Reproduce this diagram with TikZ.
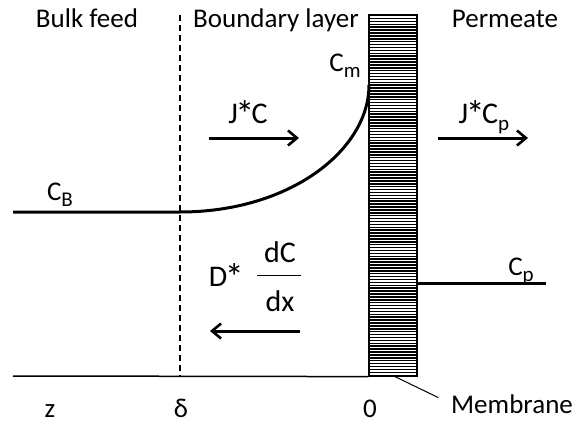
\documentclass[tikz,border=0pt]{standalone}
\usepackage{fontspec}
\setmainfont{Carlito}
\usetikzlibrary{positioning,arrows.meta}

\newcommand\sbs[1]{\raisebox{-0.24em}{\fontsize{21}{21}\selectfont #1}}
\newcommand\bigast{\kern-2.5pt\raisebox{-0.16em}{\fontsize{38}{38}\selectfont *}\kern-2.5pt}

\begin{document}
\begin{tikzpicture}[x=1pt, y=-1pt,
        lbl/.style={font=\fontsize{27}{29}\selectfont, inner sep=0pt, anchor=base},
        big/.style={lbl, font=\fontsize{30}{32}\selectfont},
        flux/.style={-{Straight Barb[length=9pt, width=15pt, line width=2.6pt]}, line width=3pt},
        profile/.style={line width=3pt},
        wall/.style={draw, line width=1.2pt, minimum width=48pt, minimum height=361pt, inner sep=0pt}
    ]
        \useasboundingbox (0,0) rectangle (574,426);

        % membrane with its stripes
        \node[wall] (membrane) at (393,195.5) {};
        \foreach \y in {18.5,21.4,...,374} {
            \draw[line width=1.5pt] (369,\y) -- (417,\y);
        }
        \node[wall] at (393,195.5) {};

        % axis and the edge of the boundary layer
        \coordinate (z) at (13,376);
        \coordinate (delta) at (180,212);
        \coordinate (deltatop) at (180,15);
        \coordinate (deltabot) at (180,376);
        \draw[line width=1.5pt] (z) -- (membrane.south west);
        \draw[line width=1.2pt, dash pattern=on 6pt off 4pt] (deltatop) -- (deltabot);

        % concentration profile
        \coordinate (bulk) at (13,212);
        \coordinate (wallin) at (369,85);
        \coordinate (perm) at (546,283);
        \draw[profile] (bulk) -- (delta) .. controls (290,212) and (369,150) .. (wallin);
        \draw[profile] (membrane.east |- perm) -- (perm);

        % headings
        \node[lbl] (bulkfeed) at (87,27) {Bulk feed};
        \node[lbl] (boundary) at (276,27) {Boundary layer};
        \node[lbl] (permeate) at (505,27) {Permeate};

        % concentrations
        \node[lbl] (cm) at (345,71) {C\sbs{m}};
        \node[lbl] (cb) at (60,200) {C\sbs{B}};
        \node[lbl] (cp) at (521,275) {C\sbs{p}};

        % fluxes
        \coordinate (jc1) at (209,138);
        \coordinate (jc2) at (299,138);
        \coordinate (jp1) at (438,138);
        \coordinate (jp2) at (528,138);
        \coordinate (d1) at (300,331);
        \coordinate (d2) at (210,331);
        \draw[flux] (jc1) -- (jc2);
        \draw[flux] (jp1) -- (jp2);
        \draw[flux] (d1) -- (d2);
        \node[big] (jc) at (248,123) {J\bigast C};
        \node[big] (jcp) at (484,123) {J\bigast C\sbs{p}};
        \node[big] (dstar) at (225,286) {D\bigast};
        \node[big] (dc) at (280,262) {dC};
        \node[big] (dx) at (280,311) {dx};
        \draw[line width=1pt] (257,275) -- (301,275);

        % positions
        \node[lbl] (zlbl) at (50,417) {z};
        \node[lbl] (dlbl) at (181,417) {δ};
        \node[lbl] (olbl) at (370,417) {0};
        \node[lbl] (memlbl) at (512,413) {Membrane};
        \draw[line width=1pt, shorten >=14pt] ([xshift=2pt]membrane.south) -- (memlbl.west);
    \end{tikzpicture}
\end{document}
